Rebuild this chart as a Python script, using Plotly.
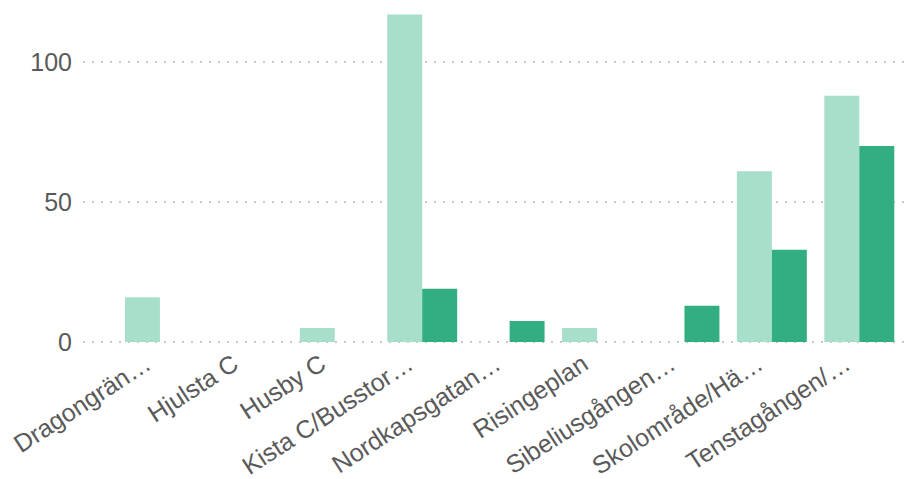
import plotly.graph_objects as go

categories = ["Dragongrän…", "Hjulsta C", "Husby C", "Kista C/Busstor…", "Nordkapsgatan…",
              "Risingeplan", "Sibeliusgången…", "Skolområde/Hä…", "Tenstagången/…"]
series_a = [16, 0, 5, 117, 0, 5, 0, 61, 88]
series_b = [0, 0, 0, 19, 7.5, 0, 13, 33, 70]
y_ticks = [0, 50, 100]

light = "#A8DFCA"
dark = "#33AE81"

fig = go.Figure()
fig.add_trace(go.Bar(x=list(range(len(categories))), y=series_a, marker_color=light,
                     marker_line_width=0, name="A"))
fig.add_trace(go.Bar(x=list(range(len(categories))), y=series_b, marker_color=dark,
                     marker_line_width=0, name="B"))

# plot area: y=0 at 342px, 2.8 px per unit (page has 8px body offset)
y_lo, y_hi = -0.7, 119.3
fig.update_layout(
    width=909, height=471,
    margin=dict(l=75, r=0, t=0, b=135, autoexpand=False),
    barmode="group", bargap=0.2, bargroupgap=0,
    plot_bgcolor="white", paper_bgcolor="white",
    showlegend=False,
    font=dict(family="Liberation Sans, Arial, sans-serif", color="#5a5a5a"),
)
fig.update_xaxes(
    range=[-0.88, 8.66],
    tickmode="array", tickvals=list(range(len(categories))), ticktext=categories,
    tickangle=-33, tickfont=dict(size=25, color="#5a5a5a"),
    showgrid=False, zeroline=False, showline=False, ticks="",
    ticklabelshift=-14, ticklabelstandoff=0,
    automargin=False,
)
fig.update_yaxes(
    range=[y_lo, y_hi],
    tickmode="array", tickvals=y_ticks,
    tickfont=dict(size=25, color="#5a5a5a"),
    showgrid=True, gridcolor="#C8C8C8", griddash="2px,7px", gridwidth=1.5,
    zeroline=False, showline=False, ticks="", ticklabelstandoff=10,
    automargin=False,
)

fig.write_html("out.html")
